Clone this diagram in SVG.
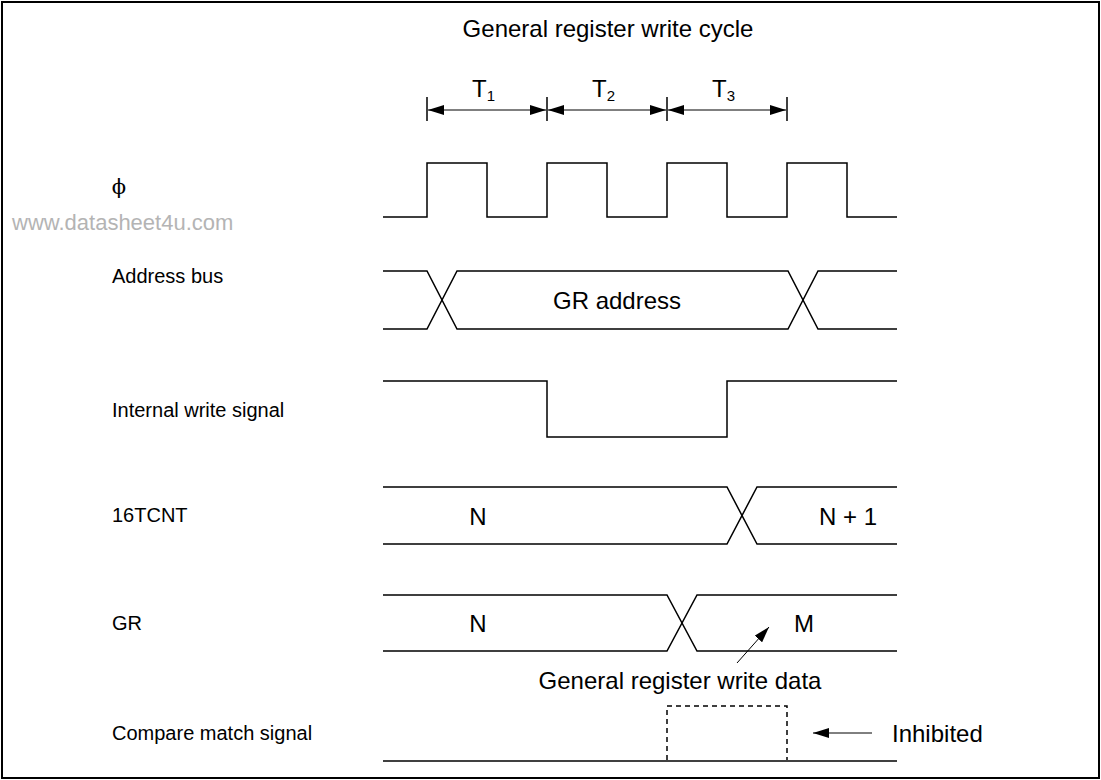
<svg xmlns="http://www.w3.org/2000/svg" width="1101" height="780" viewBox="0 0 1101 780">
<defs>
<style>
.t{font-family:"Liberation Sans",Arial,sans-serif;font-size:20px;fill:#000}
.b{font-family:"Liberation Sans",Arial,sans-serif;font-size:24px;fill:#000}
.s{fill:none;stroke:#000;stroke-width:1.5}
.d{fill:none;stroke:#000;stroke-width:1.5;stroke-dasharray:5 4}
.wm{font-family:"Liberation Sans",Arial,sans-serif;font-size:22px;fill:#b4b4b4}
</style>
<marker id="ah" viewBox="0 0 16 10" refX="16" refY="5" markerWidth="16" markerHeight="10" markerUnits="userSpaceOnUse" orient="auto">
<path d="M0,0 L16,5 L0,10 Z" fill="#000"/>
</marker>
</defs>
<rect x="2" y="2" width="1097" height="776" fill="#fff" stroke="#000" stroke-width="2"/>
<text class="b" x="608" y="37" text-anchor="middle">General register write cycle</text>
<g id="timing">
<line class="s" x1="427" y1="97" x2="427" y2="121"/>
<line class="s" x1="547" y1="97" x2="547" y2="121"/>
<line class="s" x1="667" y1="97" x2="667" y2="121"/>
<line class="s" x1="787" y1="97" x2="787" y2="121"/>
<line x1="487" y1="110" x2="428" y2="110" stroke="#000" stroke-width="1" marker-end="url(#ah)"/>
<line x1="487" y1="110" x2="546" y2="110" stroke="#000" stroke-width="1" marker-end="url(#ah)"/>
<line x1="607" y1="110" x2="548" y2="110" stroke="#000" stroke-width="1" marker-end="url(#ah)"/>
<line x1="607" y1="110" x2="666" y2="110" stroke="#000" stroke-width="1" marker-end="url(#ah)"/>
<line x1="727" y1="110" x2="668" y2="110" stroke="#000" stroke-width="1" marker-end="url(#ah)"/>
<line x1="727" y1="110" x2="786" y2="110" stroke="#000" stroke-width="1" marker-end="url(#ah)"/>
<text class="b" x="472" y="97" font-size="22">T<tspan font-size="15" dy="4">1</tspan></text>
<text class="b" x="592" y="97" font-size="22">T<tspan font-size="15" dy="4">2</tspan></text>
<text class="b" x="712" y="97" font-size="22">T<tspan font-size="15" dy="4">3</tspan></text>
</g>
<g id="phi">
<text x="119" y="194" text-anchor="middle" font-family="DejaVu Serif,serif" font-size="21">ϕ</text>
<path class="s" d="M383,217 H427 V163 H487 V217 H547 V163 H607 V217 H667 V163 H727 V217 H787 V163 H847 V217 H897"/>
</g>
<text class="wm" x="12" y="230">www.datasheet4u.com</text>
<g id="address">
<text class="t" x="112" y="283">Address bus</text>
<path class="s" d="M383,271 H427 L457,329 H788 L818,271 H897"/>
<path class="s" d="M383,329 H427 L457,271 H788 L818,329 H897"/>
<text class="b" x="617" y="309" text-anchor="middle">GR address</text>
</g>
<g id="write">
<text class="t" x="112" y="417">Internal write signal</text>
<path class="s" d="M383,381 H547 V437 H727 V381 H897"/>
</g>
<g id="tcnt">
<text class="t" x="112" y="522">16TCNT</text>
<path class="s" d="M383,487 H727 L757,544 H897"/>
<path class="s" d="M383,544 H727 L757,487 H897"/>
<text class="b" x="478" y="525" text-anchor="middle">N</text>
<text class="b" x="848" y="525" text-anchor="middle">N + 1</text>
</g>
<g id="gr">
<text class="t" x="112" y="630">GR</text>
<path class="s" d="M383,595 H667 L697,651 H897"/>
<path class="s" d="M383,651 H667 L697,595 H897"/>
<text class="b" x="478" y="632" text-anchor="middle">N</text>
<text class="b" x="804" y="632" text-anchor="middle">M</text>
<line x1="737" y1="663" x2="769" y2="627" stroke="#000" stroke-width="1" marker-end="url(#ah)"/>
<text class="b" x="680" y="689" text-anchor="middle">General register write data</text>
</g>
<g id="compare">
<text class="t" x="112" y="740">Compare match signal</text>
<line class="s" x1="383" y1="761" x2="897" y2="761"/>
<path class="d" d="M667,760 V706 H787 V760"/>
<line x1="872" y1="733" x2="813" y2="733" stroke="#000" stroke-width="1" marker-end="url(#ah)"/>
<text class="b" x="892" y="742">Inhibited</text>
</g>
</svg>
